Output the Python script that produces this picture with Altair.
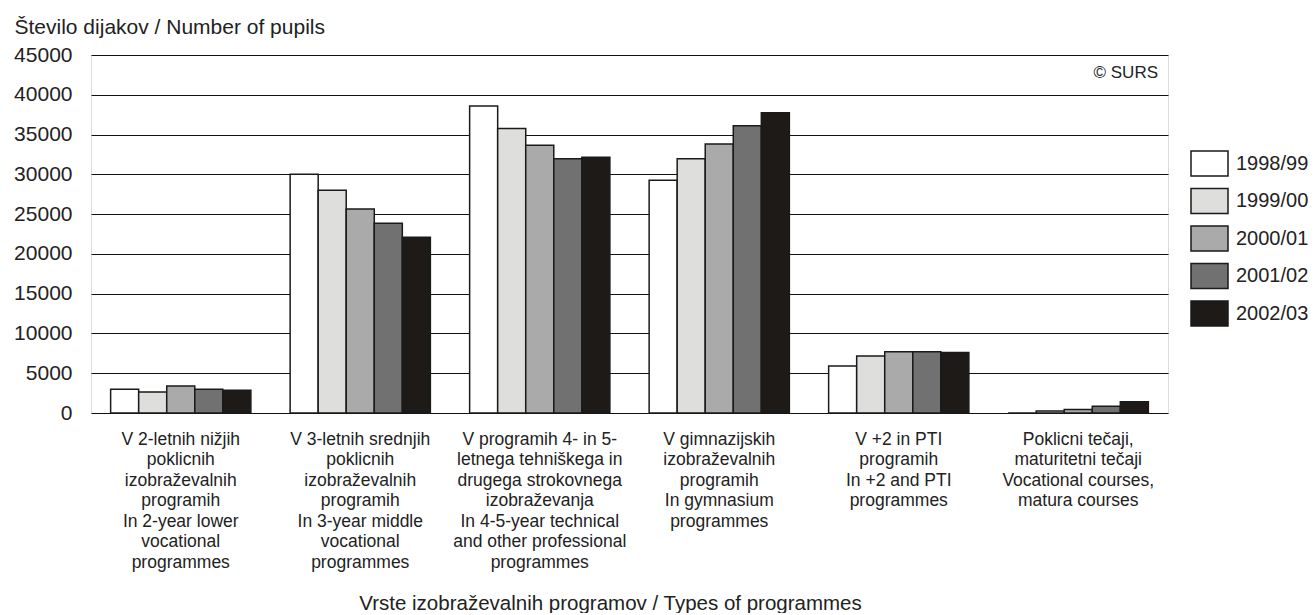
import altair as alt
import pandas as pd

categories = [
    "V 2-letnih nižjih|poklicnih|izobraževalnih|programih|In 2-year lower|vocational|programmes",
    "V 3-letnih srednjih|poklicnih|izobraževalnih|programih|In 3-year middle|vocational|programmes",
    "V programih 4- in 5-|letnega tehniškega in|drugega strokovnega|izobraževanja|In 4-5-year technical|and other professional|programmes",
    "V gimnazijskih|izobraževalnih|programih|In gymnasium|programmes",
    "V +2 in PTI|programih|In +2 and PTI|programmes",
    "Poklicni tečaji,|maturitetni tečaji|Vocational courses,|matura courses",
]
years = ["1998/99", "1999/00", "2000/01", "2001/02", "2002/03"]
colors = ["#ffffff", "#dededc", "#aaaaaa", "#717171", "#1e1a18"]

v_1998 = [3000, 30000, 38600, 29250, 5900, 0]
v_1999 = [2650, 28000, 35750, 31950, 7150, 250]
v_2000 = [3400, 25650, 33650, 33800, 7700, 450]
v_2001 = [3000, 23850, 31950, 36100, 7700, 850]
v_2002 = [2870, 22100, 32150, 37750, 7600, 1400]
series = [v_1998, v_1999, v_2000, v_2001, v_2002]

y_ticks = list(range(0, 45001, 5000))

rows = []
for yr, vals in zip(years, series):
    for cat, v in zip(categories, vals):
        rows.append({"cat": cat, "year": yr, "value": v})
df = pd.DataFrame(rows)

FONT = "Liberation Sans"

rect_path = "M-1,-0.676L1,-0.676L1,0.676L-1,0.676Z"

bars = alt.Chart(df).mark_bar(stroke="#1a1a1a", strokeWidth=1.5).encode(
    x=alt.X(
        "cat:N",
        sort=categories,
        scale=alt.Scale(paddingInner=0, paddingOuter=0),
        axis=alt.Axis(
            title="Vrste izobraževalnih programov / Types of programmes",
            titleFont=FONT,
            titleFontSize=20.5,
            titleFontWeight="normal",
            titleColor="#222",
            titleX=519,
            titleY=190,
            titleBaseline="middle",
            labelAngle=0,
            labelExpr="split(datum.label, '|')",
            labelFont=FONT,
            labelFontSize=17.5,
            labelLineHeight=20.5,
            labelColor="#222",
            labelPadding=17,
            labelLimit=400,
            labelBaseline="top",
            ticks=False,
            domain=False,
            grid=False,
        ),
    ),
    xOffset=alt.XOffset(
        "year:N",
        sort=years,
        scale=alt.Scale(paddingInner=0, paddingOuter=0.7),
    ),
    y=alt.Y(
        "value:Q",
        scale=alt.Scale(domain=[0, 45000], nice=False),
        axis=alt.Axis(
            title="Število dijakov / Number of pupils",
            titleFont=FONT,
            titleFontSize=21,
            titleFontWeight="normal",
            titleColor="#222",
            titleAngle=0,
            titleAlign="left",
            titleBaseline="middle",
            titleX=-77,
            titleY=-28,
            values=y_ticks,
            format="d",
            labelFont=FONT,
            labelFontSize=21,
            labelColor="#222",
            labelPadding=19,
            ticks=False,
            domain=False,
            grid=True,
            gridColor="#111",
            gridWidth=1,
            gridOpacity=1,
        ),
    ),
    fill=alt.Fill(
        "year:N",
        sort=years,
        scale=alt.Scale(domain=years, range=colors),
        legend=alt.Legend(
            title=None,
            orient="none",
            legendX=1099,
            legendY=89,
            symbolType=rect_path,
            symbolSize=1369,
            symbolStrokeColor="#1a1a1a",
            symbolStrokeWidth=1.5,
            symbolOpacity=1,
            labelFont=FONT,
            labelFontSize=20,
            labelColor="#222",
            labelOffset=7,
            rowPadding=1.5,
            padding=0,
        ),
    ),
)

surs = alt.Chart(pd.DataFrame({"t": ["© SURS"]})).mark_text(
    font=FONT, fontSize=17, color="#222", align="right", baseline="middle"
).encode(x=alt.value(1067), y=alt.value(18), text="t:N")

chart = alt.layer(bars, surs).properties(
    width=1077,
    height=358,
    autosize=alt.AutoSizeParams(type="none"),
    padding={"left": 83, "top": 47, "right": 140, "bottom": 200},
).configure_view(stroke="#222", strokeWidth=1.5).configure(background="white")

chart.save("out.html", embed_options={"renderer": "svg", "actions": False})
